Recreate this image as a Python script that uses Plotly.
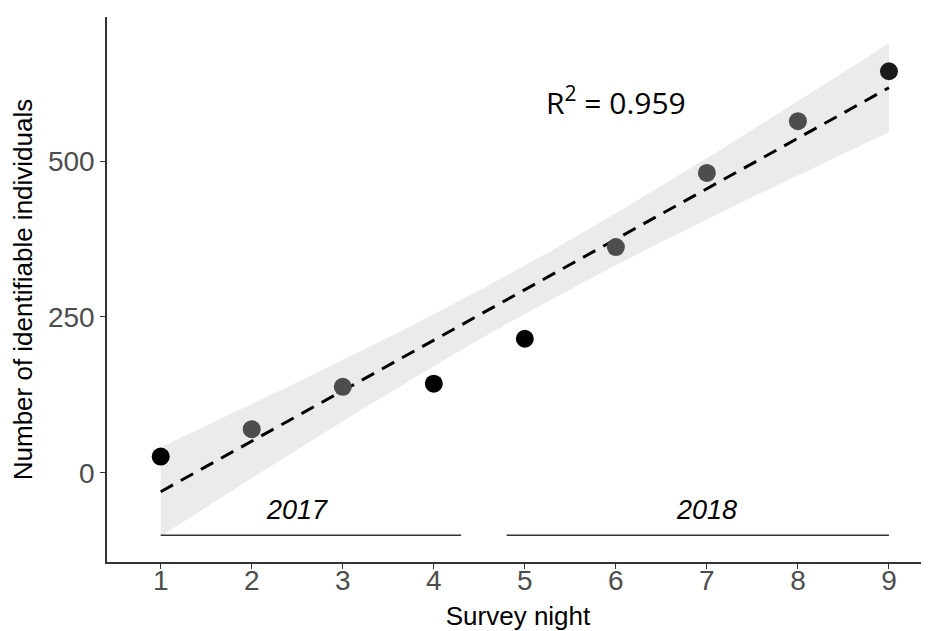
import numpy as np
import plotly.graph_objects as go

# Data
survey_night = [1, 2, 3, 4, 5, 6, 7, 8, 9]
individuals = [26, 70, 138, 143, 215, 362, 481, 564, 644]
point_colors = ["#000000", "#4d4d4d", "#4d4d4d", "#000000", "#000000",
                "#4d4d4d", "#4d4d4d", "#4d4d4d", "#1a1a1a"]
x_ticks = [1, 2, 3, 4, 5, 6, 7, 8, 9]
y_ticks = [0, 250, 500]
year_labels = ["2017", "2018"]
year_label_x = [2.5, 7.0]
year_label_y = -60
year_seg_start = [1, 4.8]
year_seg_end = [4.3, 9]
year_seg_y = -100
r2_text = "R<sup>2</sup> = 0.959"

# Linear fit with 95% confidence band
x = np.array(survey_night, float)
y = np.array(individuals, float)
n = len(x)
slope, intercept = np.polyfit(x, y, 1)
resid = y - (intercept + slope * x)
s = np.sqrt(np.sum(resid ** 2) / (n - 2))
t_crit = 2.364624  # t(0.975, df=7)
xs = np.linspace(x.min(), x.max(), 100)
fit = intercept + slope * xs
se = s * np.sqrt(1 / n + (xs - x.mean()) ** 2 / np.sum((x - x.mean()) ** 2))
upper = fit + t_crit * se
lower = fit - t_crit * se

fig = go.Figure()
fig.add_trace(go.Scatter(
    x=np.concatenate([xs, xs[::-1]]), y=np.concatenate([upper, lower[::-1]]),
    fill="toself", fillcolor="#ebebeb", line=dict(width=0), mode="lines",
    hoverinfo="skip", showlegend=False))
fig.add_trace(go.Scatter(
    x=xs, y=fit, mode="lines",
    line=dict(color="black", width=3, dash="14px,9px"), showlegend=False))
fig.add_trace(go.Scatter(
    x=survey_night, y=individuals, mode="markers",
    marker=dict(size=18, color=point_colors, line=dict(width=0)),
    showlegend=False))
for x0, x1 in zip(year_seg_start, year_seg_end):
    fig.add_trace(go.Scatter(
        x=[x0, x1], y=[year_seg_y, year_seg_y], mode="lines",
        line=dict(color="#333333", width=1.5), showlegend=False))
for lbl, lx in zip(year_labels, year_label_x):
    fig.add_annotation(x=lx, y=year_label_y, text="<i>" + lbl + "</i>",
                       showarrow=False, font=dict(family="Liberation Sans", size=27, color="black"))
fig.add_annotation(x=6.0, y=597, text=r2_text, showarrow=False,
                   font=dict(family="Open Sans", size=30, color="black"))

fig.update_layout(
    width=921, height=623,
    margin=dict(l=99, r=0, t=9, b=69),
    plot_bgcolor="white", paper_bgcolor="white",
    font=dict(family="Liberation Sans"),
    xaxis=dict(range=[0.41, 9.44], tickvals=x_ticks, showgrid=False, zeroline=False,
               automargin=False,
               showline=True, linecolor="#333333", linewidth=1.5,
               ticks="outside", ticklen=5, tickcolor="#333333",
               ticklabelstandoff=-12,
               tickfont=dict(size=28, color="#4d4d4d"),
               title=dict(text="Survey night", font=dict(size=26, color="black"), standoff=13)),
    yaxis=dict(range=[-143, 731], tickvals=y_ticks, showgrid=False, zeroline=False,
               automargin=False,
               showline=True, linecolor="#333333", linewidth=1.5,
               ticks="outside", ticklen=5, tickcolor="#333333",
               tickfont=dict(size=28, color="#4d4d4d"),
               title=dict(text="Number of identifiable individuals", font=dict(size=26, color="black"), standoff=8)),
)
fig.write_html("out.html")
